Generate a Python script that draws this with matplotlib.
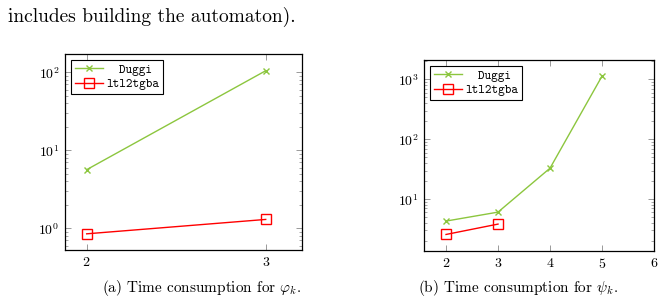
import numpy as np
import matplotlib
matplotlib.use('Agg')
import matplotlib.pyplot as plt
from matplotlib.ticker import LogLocator, NullFormatter, FixedLocator

plt.rcParams['font.family'] = 'cmr10'
plt.rcParams['mathtext.fontset'] = 'cm'
plt.rcParams['axes.formatter.use_mathtext'] = True

################################ data ################################

k_phi = [2, 3]
duggi_phi = [5.65, 105]
ltl_phi = [0.85, 1.30]

k_psi_duggi = [2, 3, 4, 5]
duggi_psi = [4.3, 6.07, 32.9, 1135]
k_psi_ltl = [2, 3]
ltl_psi = [2.57, 3.83]

labels = ['  Duggi', 'ltl2tgba']
captions = [r'(a) Time consumption for $\varphi_k$.', r'(b) Time consumption for $\psi_k$.']

GREEN = '#8cc63e'
RED = '#ff0000'

################################ figure ################################

fig = plt.figure(figsize=(6.64, 3.05), dpi=100)

axA = fig.add_axes([0.0979, 0.1803, 0.357, 0.6426])
axB = fig.add_axes([0.6386, 0.177, 0.3464, 0.626])


def style_axis(ax, xticks):
    ax.set_yscale('log')
    ax.xaxis.set_major_locator(FixedLocator(xticks))
    ax.xaxis.set_minor_locator(FixedLocator([]))
    ax.yaxis.set_major_locator(LogLocator(base=10))
    ax.yaxis.set_minor_locator(LogLocator(base=10, subs=np.arange(2, 10)))
    ax.yaxis.set_minor_formatter(NullFormatter())
    ax.tick_params(which='both', direction='in', top=True, right=True,
                   color='#999999', labelsize=10, labelcolor='black')
    ax.tick_params(which='major', length=4, width=0.7, pad=4)
    ax.tick_params(which='minor', length=2, width=0.6)
    for sp in ax.spines.values():
        sp.set_linewidth(0.9)


def add_legend(ax):
    leg = ax.legend(loc='upper left', prop={'family': 'cmtt10', 'size': 9},
                    fancybox=False, edgecolor='black', framealpha=1,
                    handlelength=2.2, handletextpad=0.3, borderpad=0.3,
                    labelspacing=0.2, borderaxespad=0.5)
    leg.get_frame().set_linewidth(0.8)


axA.plot(k_phi, duggi_phi, color=GREEN, lw=1, marker='x', ms=5, mew=1, label=labels[0])
axA.plot(k_phi, ltl_phi, color=RED, lw=1, marker='s', ms=7, mew=1,
         mfc='none', label=labels[1])
style_axis(axA, [2, 3])
axA.set_xlim(1.879, 3.203)
axA.set_ylim(0.527, 172)
add_legend(axA)

axB.plot(k_psi_duggi, duggi_psi, color=GREEN, lw=1, marker='x', ms=5, mew=1, label=labels[0])
axB.plot(k_psi_ltl, ltl_psi, color=RED, lw=1, marker='s', ms=7, mew=1,
         mfc='none', label=labels[1])
style_axis(axB, [2, 3, 4, 5, 6])
axB.set_xlim(1.577, 6.0)
axB.set_ylim(1.36, 2100)
add_legend(axB)

# surrounding text of the page
fig.text(8 / 664, 1 - 22 / 305, 'includes building the automaton).', fontsize=14,
         ha='left', va='baseline')
fig.text(202 / 664, 1 - 292 / 305, captions[0], fontsize=11, ha='center', va='baseline')
fig.text(518 / 664, 1 - 292 / 305, captions[1], fontsize=11, ha='center', va='baseline')

fig.savefig('out.png', dpi=100)
